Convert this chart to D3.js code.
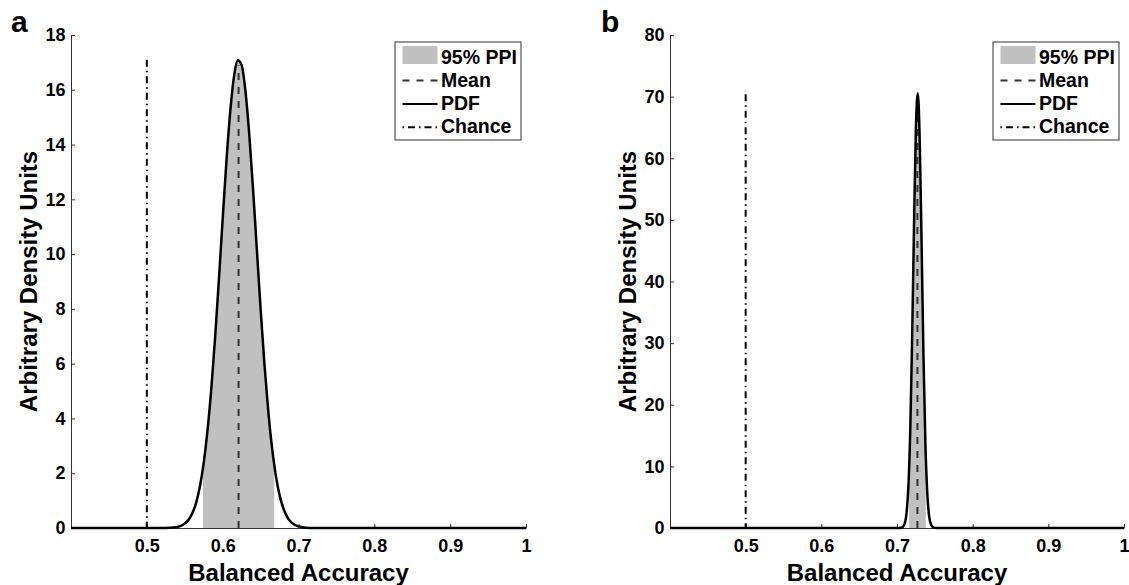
<!DOCTYPE html>
<html>
<head>
<meta charset="utf-8">
<script src="https://cdn.jsdelivr.net/npm/d3@7"></script>
<style>
  html, body { margin: 0; padding: 0; background: #fff; }
  svg text { font-family: "Liberation Sans", Arial, Helvetica, sans-serif; font-weight: bold; fill: #000; }
</style>
</head>
<body>
<svg id="chart" width="1129" height="585"></svg>
<script>
// ---------------- data ----------------
const panelLabels = ["a", "b"];
const xLabel = "Balanced Accuracy";
const yLabel = "Arbitrary Density Units";
const legendLabels = ["95% PPI", "Mean", "PDF", "Chance"];

const xDomain = [0.4, 1];
const xTicks = [0.5, 0.6, 0.7, 0.8, 0.9, 1];
const xTickLabels = ["0.5", "0.6", "0.7", "0.8", "0.9", "1"];

const yMaxA = 18;
const yTicksA = [0, 2, 4, 6, 8, 10, 12, 14, 16, 18];
const yMaxB = 80;
const yTicksB = [0, 10, 20, 30, 40, 50, 60, 70, 80];

// panel a: PDF
const pdfXA = [0.40, 0.52, 0.53, 0.535, 0.54, 0.545, 0.55, 0.555, 0.56, 0.565, 0.57, 0.575,
               0.58, 0.585, 0.59, 0.595, 0.60, 0.605, 0.61, 0.615, 0.62, 0.625, 0.63,
               0.635, 0.64, 0.645, 0.65, 0.655, 0.66, 0.665, 0.67, 0.675, 0.68, 0.685,
               0.69, 0.695, 0.70, 0.705, 0.71, 0.72, 1.00];
const pdfYA = [0, 0, 0.01, 0.02, 0.04, 0.08, 0.16, 0.30, 0.54, 0.92, 1.52, 2.38,
               3.56, 5.08, 6.94, 9.05, 11.27, 13.40, 15.21, 16.50, 17.08, 16.90, 15.96,
               14.39, 12.40, 10.20, 8.01, 6.01, 4.31, 2.95, 1.93, 1.20, 0.72, 0.41,
               0.22, 0.12, 0.06, 0.03, 0.01, 0, 0];
const ppiA = [0.574, 0.668];
const meanA = 0.621;
const meanTopA = 16.9;
const chanceA = 0.5;
const chanceTopA = 17.1;

// panel b: PDF
const pdfXB = [0.40, 0.695, 0.70, 0.7025, 0.705, 0.7075, 0.71, 0.7125, 0.715, 0.7175, 0.72,
               0.7225, 0.725, 0.7275, 0.73, 0.7325, 0.735, 0.7375, 0.74, 0.7425, 0.745,
               0.7475, 0.75, 0.7525, 0.76, 1.00];
const pdfYB = [0, 0, 0.0, 0.01, 0.03, 0.15, 0.65, 2.29, 6.60, 15.69, 30.65,
               49.21, 64.99, 70.56, 62.98, 46.23, 27.89, 13.85, 5.65, 1.89, 0.52,
               0.12, 0.02, 0.0, 0, 0];
const ppiB = [0.716, 0.738];
const meanB = 0.727;
const meanTopB = 69.5;
const chanceB = 0.5;
const chanceTopB = 70.4;

// ---------------- drawing ----------------
const svg = d3.select("#chart");
const TOP = 35, BOTTOM = 528;
const FILL = "#c0c0c0", AXIS = "#333";
const MEAN_DASH = "7,7", CHANCE_DASH = "7,4,1.5,4";

const panels = [
  { id: "a", label: panelLabels[0], left: 71, right: 526, labelX: 11, yMax: yMaxA, yTicks: yTicksA,
    px: pdfXA, py: pdfYA, ppi: ppiA, mean: meanA, meanTop: meanTopA, chance: chanceA, chanceTop: chanceTopA },
  { id: "b", label: panelLabels[1], left: 670, right: 1124, labelX: 601, yMax: yMaxB, yTicks: yTicksB,
    px: pdfXB, py: pdfYB, ppi: ppiB, mean: meanB, meanTop: meanTopB, chance: chanceB, chanceTop: chanceTopB }
];

panels.forEach(p => {
  const x = d3.scaleLinear().domain(xDomain).range([p.left, p.right]);
  const y = d3.scaleLinear().domain([0, p.yMax]).range([BOTTOM, TOP]);
  const pts = p.px.map((v, i) => [v, p.py[i]]);
  const g = svg.append("g");

  // axes
  const xAxis = d3.axisBottom(x).tickValues(xTicks)
    .tickFormat((d, i) => xTickLabels[i]).tickSize(-4).tickSizeOuter(0).tickPadding(11.5);
  const gx = g.append("g").attr("transform", `translate(0,${BOTTOM})`).call(xAxis);
  const yAxis = d3.axisLeft(y).tickValues(p.yTicks).tickSize(-4).tickSizeOuter(0).tickPadding(5.5);
  const gy = g.append("g").attr("transform", `translate(${p.left},0)`).call(yAxis);
  [gx, gy].forEach(a => {
    a.select(".domain").attr("stroke", AXIS).attr("stroke-width", 1);
    a.selectAll(".tick line").attr("stroke", AXIS).attr("stroke-width", 1);
    a.selectAll(".tick text").attr("font-size", 18).attr("font-family", "Liberation Sans, Arial, sans-serif")
      .attr("font-weight", "bold").attr("fill", "#000");
  });

  // shaded PPI
  const clipId = "clip-" + p.id;
  g.append("clipPath").attr("id", clipId).append("rect")
    .attr("x", x(p.ppi[0])).attr("y", TOP - 10)
    .attr("width", x(p.ppi[1]) - x(p.ppi[0])).attr("height", BOTTOM - TOP + 10);
  const area = d3.area().x(d => x(d[0])).y0(y(0)).y1(d => y(d[1])).curve(d3.curveMonotoneX);
  g.append("path").datum(pts).attr("d", area).attr("fill", FILL).attr("clip-path", `url(#${clipId})`);

  // mean line
  g.append("line").attr("x1", x(p.mean)).attr("x2", x(p.mean))
    .attr("y1", y(0)).attr("y2", y(p.meanTop))
    .attr("stroke", "#333").attr("stroke-width", 2).attr("stroke-dasharray", MEAN_DASH);

  // PDF
  const line = d3.line().x(d => x(d[0])).y(d => y(d[1])).curve(d3.curveMonotoneX);
  g.append("path").datum(pts).attr("d", line).attr("fill", "none")
    .attr("stroke", "#000").attr("stroke-width", 2.5).attr("stroke-linejoin", "round");

  // chance line
  g.append("line").attr("x1", x(p.chance)).attr("x2", x(p.chance))
    .attr("y1", y(p.chanceTop)).attr("y2", y(0))
    .attr("stroke", "#000").attr("stroke-width", 2).attr("stroke-dasharray", CHANCE_DASH);

  // axis titles
  g.append("text").attr("x", (p.left + p.right) / 2).attr("y", 581)
    .attr("text-anchor", "middle").attr("font-size", 24).text(xLabel);
  g.append("text").attr("transform", `translate(${p.left - 34},${(TOP + BOTTOM) / 2}) rotate(-90)`)
    .attr("text-anchor", "middle").attr("font-size", 24).text(yLabel);

  // panel label
  g.append("text").attr("x", p.labelX).attr("y", 31.5).attr("font-size", 30).text(p.label);

  // legend
  const lw = 126, lh = 98;
  const lx = p.right - 5 - lw, ly = 42;
  const lg = g.append("g").attr("transform", `translate(${lx},${ly})`);
  lg.append("rect").attr("x", 0).attr("y", 0).attr("width", lw).attr("height", lh)
    .attr("fill", "#fff").attr("stroke", AXIS).attr("stroke-width", 1);
  const rowBase = [21.5, 44.5, 68, 91.3];
  const sx0 = 7.5, sx1 = 42.5;
  legendLabels.forEach((lab, i) => {
    const b = rowBase[i];
    if (i === 0) {
      lg.append("rect").attr("x", sx0).attr("y", b - 17.5).attr("width", sx1 - sx0).attr("height", 18).attr("fill", FILL);
    } else {
      const s = lg.append("line").attr("x1", sx0).attr("x2", sx1).attr("y1", b - 6).attr("y2", b - 6)
        .attr("stroke-width", 2);
      if (i === 1) s.attr("stroke", "#333").attr("stroke-dasharray", MEAN_DASH);
      if (i === 2) s.attr("stroke", "#000");
      if (i === 3) s.attr("stroke", "#000").attr("stroke-dasharray", "1.5,4,7,4");
    }
    lg.append("text").attr("x", 46).attr("y", b).attr("font-size", 19.5).text(lab);
  });
});
</script>
</body>
</html>
